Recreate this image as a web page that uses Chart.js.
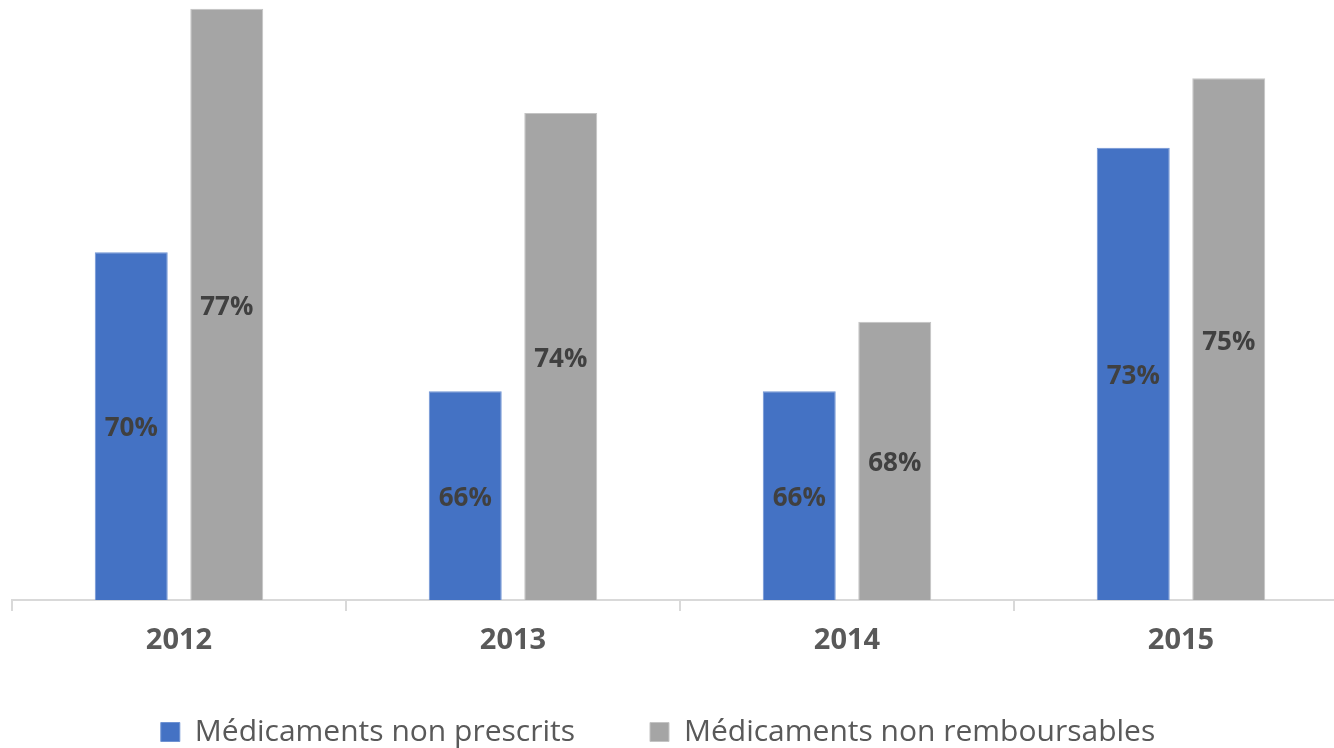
<!DOCTYPE html>
<html>
<head>
<meta charset="utf-8">
<script src="https://cdn.jsdelivr.net/npm/chart.js@4/dist/chart.umd.min.js"></script>
<style>
  html, body { margin: 0; padding: 0; background: #fff; overflow: hidden; }
  #wrap { width: 1348px; height: 785px; }
</style>
</head>
<body>
<div id="wrap"><canvas id="chart"></canvas></div>
<script>
const years = ['2012', '2013', '2014', '2015'];
const nonPrescrits = [70, 66, 66, 73];
const nonRemboursables = [77, 74, 68, 75];
const seriesNames = ['Médicaments non prescrits', 'Médicaments non remboursables'];
const yMin = 60;
const yMax = 77.25;

const FONT = '"Open Sans", "DejaVu Sans", sans-serif';

// value labels centred in each bar
const centreLabels = {
    id: 'centreLabels',
    afterDatasetsDraw(chart) {
        const ctx = chart.ctx;
        ctx.save();
        ctx.font = 'bold 26px ' + FONT;
        ctx.fillStyle = '#404040';
        ctx.textAlign = 'center';
        ctx.textBaseline = 'middle';
        chart.data.datasets.forEach(function (ds, i) {
            chart.getDatasetMeta(i).data.forEach(function (bar, j) {
                const p = bar.getProps(['x', 'y', 'base'], true);
                ctx.fillText(ds.data[j] + '%', p.x, (p.y + p.base) / 2 + 3);
            });
        });
        ctx.restore();
    }
};

// nudge the legend after layout (horizontal gap needs a large padding)
const legendShift = {
    id: 'legendShift',
    afterLayout(chart) {
        const lg = chart.legend;
        if (!lg) return;
        lg.top -= 28; lg.bottom -= 28;
        lg.left -= 22; lg.right -= 22;
    }
};

Chart.register(centreLabels, legendShift);

new Chart(document.getElementById('chart'), {
    type: 'bar',
    data: {
        labels: years,
        datasets: [{
            label: seriesNames[0],
            data: nonPrescrits,
            backgroundColor: '#4472C4',
            borderColor: '#6f93d3',
            borderWidth: 1
        }, {
            label: seriesNames[1],
            data: nonRemboursables,
            backgroundColor: '#A5A5A5',
            borderColor: '#c4c4c4',
            borderWidth: 1
        }]
    },
    options: {
        responsive: true,
        maintainAspectRatio: false,
        animation: false,
        datasets: {
            bar: { categoryPercentage: 0.572, barPercentage: 0.764, base: yMin }
        },
        layout: { padding: { left: 12, right: 0, top: 0, bottom: 0 } },
        scales: {
            y: {
                display: false,
                min: yMin,
                max: yMax
            },
            x: {
                afterFit(scale) { scale.height = 70; },
                grid: {
                    drawOnChartArea: false,
                    drawTicks: true,
                    tickLength: 11,
                    color: '#d9d9d9',
                    lineWidth: 2
                },
                border: { color: '#d9d9d9', width: 2 },
                ticks: {
                    color: '#595959',
                    font: { family: FONT, size: 29, weight: 'bold' },
                    padding: 12
                }
            }
        },
        plugins: {
            tooltip: { enabled: false },
            legend: {
                position: 'bottom',
                labels: {
                    color: '#595959',
                    font: { family: FONT, size: 30 },
                    boxWidth: 19,
                    boxHeight: 19,
                    padding: 75
                }
            }
        }
    }
});
</script>
</body>
</html>
